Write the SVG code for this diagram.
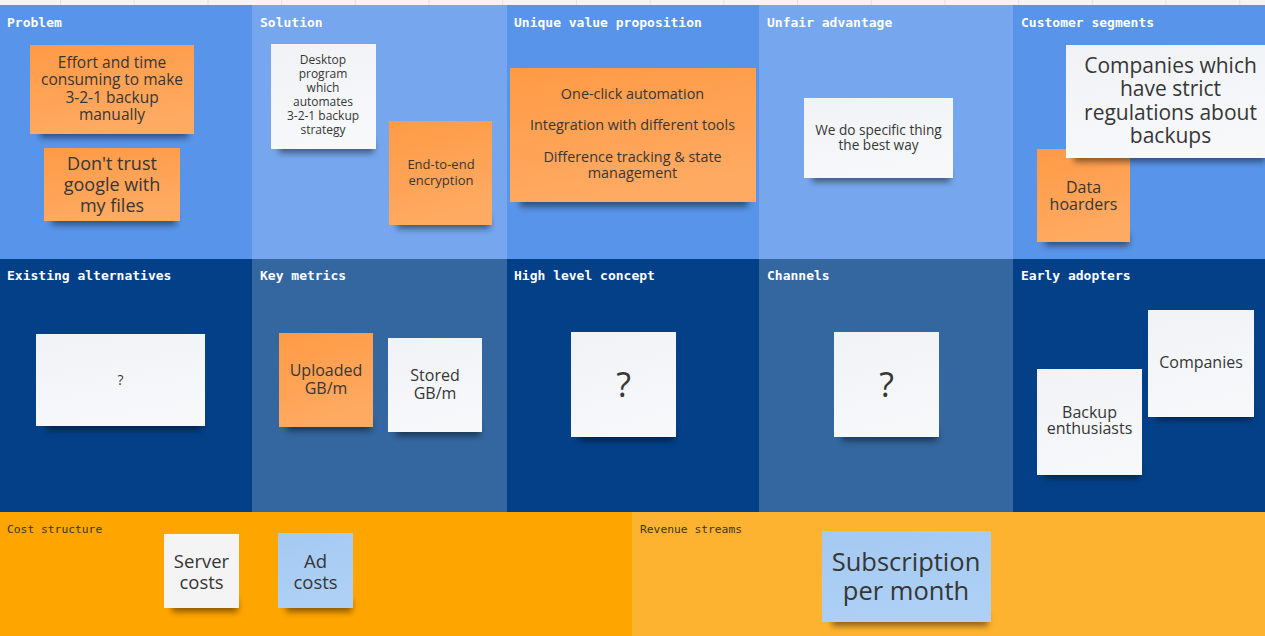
<svg xmlns="http://www.w3.org/2000/svg" width="1265" height="636" viewBox="0 0 1265 636">
<defs>
<linearGradient id="gOr" x1="0" y1="0" x2="0.3" y2="1">
<stop offset="0" stop-color="#FE9A45"/><stop offset="1" stop-color="#FFAA62"/>
</linearGradient>
<linearGradient id="gWh" x1="0" y1="0" x2="0.3" y2="1">
<stop offset="0" stop-color="#F1F2F5"/><stop offset="1" stop-color="#F7F8FA"/>
</linearGradient>
<linearGradient id="gBl" x1="0" y1="0" x2="0.3" y2="1">
<stop offset="0" stop-color="#A4C9F2"/><stop offset="1" stop-color="#AED0F5"/>
</linearGradient>
<filter id="blur" x="-20%" y="-100%" width="140%" height="300%"><feGaussianBlur stdDeviation="3"/></filter>
<pattern id="grid" width="73.7" height="6" patternUnits="userSpaceOnUse" x="-13.7">
<rect width="73.7" height="6" fill="#F4F4F4"/><rect x="0" width="1" height="6" fill="#E2E2E2"/>
</pattern>
</defs>
<style>
.hdr{font-family:"DejaVu Sans Mono","Liberation Mono",monospace;font-weight:bold;font-size:13px;fill:#FFFFFF}
.hdr3{font-family:"DejaVu Sans Mono","Liberation Mono",monospace;font-size:11.3px;fill:#3A3328}
.t{font-family:"Open Sans","Noto Sans",sans-serif;fill:#363636;text-anchor:middle}
.sh{fill:#000;opacity:0.45;filter:url(#blur)}
.or{fill:url(#gOr)}
.wh{fill:url(#gWh)}
.bl{fill:url(#gBl)}
</style>
<g id="panels">
<rect x="0" y="0" width="1265" height="6" fill="url(#grid)"/>
<rect x="0" y="5" width="252" height="254" fill="#5894E9"/>
<rect x="252" y="5" width="255" height="254" fill="#76A6ED"/>
<rect x="507" y="5" width="252" height="254" fill="#5894E9"/>
<rect x="759" y="5" width="254" height="254" fill="#76A6ED"/>
<rect x="1013" y="5" width="252" height="254" fill="#5894E9"/>
<rect x="0" y="259" width="252" height="253" fill="#044088"/>
<rect x="252" y="259" width="255" height="253" fill="#34669F"/>
<rect x="507" y="259" width="252" height="253" fill="#044088"/>
<rect x="759" y="259" width="254" height="253" fill="#34669F"/>
<rect x="1013" y="259" width="252" height="253" fill="#044088"/>
<rect x="0" y="512" width="632" height="124" fill="#FFA500"/>
<rect x="632" y="512" width="633" height="124" fill="#FDB32F"/>
<text class="hdr" x="7" y="27">Problem</text>
<text class="hdr" x="260" y="27">Solution</text>
<text class="hdr" x="514" y="27">Unique value proposition</text>
<text class="hdr" x="767" y="27">Unfair advantage</text>
<text class="hdr" x="1021" y="27">Customer segments</text>
<text class="hdr" x="7" y="280">Existing alternatives</text>
<text class="hdr" x="260" y="280">Key metrics</text>
<text class="hdr" x="514" y="280">High level concept</text>
<text class="hdr" x="767" y="280">Channels</text>
<text class="hdr" x="1021" y="280">Early adopters</text>
<text class="hdr3" x="7" y="532.5">Cost structure</text>
<text class="hdr3" x="640" y="532.5">Revenue streams</text>
</g>
<g id="connectors"/>
<g id="notes">
<g id="problem-effort">
<rect class="sh" x="40" y="126" width="148" height="12"/>
<rect class="or" x="30" y="45" width="164" height="89"/>
<text class="t" font-size="15.5"><tspan x="112" y="67.6">Effort and time</tspan><tspan x="112" y="85.1">consuming to make</tspan><tspan x="112" y="102.6">3-2-1 backup</tspan><tspan x="112" y="120.1">manually</tspan></text>
</g>
<g id="problem-trust">
<rect class="sh" x="52" y="213" width="124" height="12"/>
<rect class="or" x="44" y="148" width="136" height="73"/>
<text class="t" font-size="18"><tspan x="112" y="169.5">Don't trust</tspan><tspan x="112" y="190.5">google with</tspan><tspan x="112" y="211.5">my files</tspan></text>
</g>
<g id="solution-desktop">
<rect class="sh" x="279" y="141" width="95" height="12"/>
<rect class="wh" x="271" y="44" width="105" height="105"/>
<text class="t" font-size="12"><tspan x="323" y="64.3">Desktop</tspan><tspan x="323" y="78.3">program</tspan><tspan x="323" y="92.3">which</tspan><tspan x="323" y="106.3">automates</tspan><tspan x="323" y="120.3">3-2-1 backup</tspan><tspan x="323" y="134.3">strategy</tspan></text>
</g>
<g id="solution-encryption">
<rect class="sh" x="397" y="217" width="93" height="12"/>
<rect class="or" x="389" y="121" width="103" height="104"/>
<text class="t" font-size="13"><tspan x="441" y="168.7">End-to-end</tspan><tspan x="441" y="184.7">encryption</tspan></text>
</g>
<g id="uvp">
<rect class="sh" x="520" y="194" width="228" height="13"/>
<rect class="or" x="510" y="68" width="246" height="134"/>
<text class="t" font-size="14.4"><tspan x="632.5" y="99.2">One-click automation</tspan><tspan x="632.5" y="130.2">Integration with different tools</tspan><tspan x="632.5" y="161.9">Difference tracking &amp; state</tspan><tspan x="632.5" y="177.9">management</tspan></text>
</g>
<g id="unfair">
<rect class="sh" x="812" y="170" width="138" height="12"/>
<rect class="wh" x="804" y="98" width="149" height="80"/>
<text class="t" font-size="13.6"><tspan x="878.5" y="134.9">We do specific thing</tspan><tspan x="878.5" y="149.9">the best way</tspan></text>
</g>
<g id="segment-hoarders">
<rect class="sh" x="1045" y="234" width="84" height="12"/>
<rect class="or" x="1037" y="149" width="93" height="93"/>
<text class="t" font-size="16"><tspan x="1083.5" y="192.8">Data</tspan><tspan x="1083.5" y="209.8">hoarders</tspan></text>
</g>
<g id="segment-companies">
<rect class="sh" x="1074" y="150" width="191" height="12"/>
<rect class="wh" x="1066" y="45" width="199" height="113"/>
<text class="t" font-size="21"><tspan x="1170.5" y="72.6">Companies which</tspan><tspan x="1170.5" y="96.2">have strict</tspan><tspan x="1170.5" y="119.8">regulations about</tspan><tspan x="1170.5" y="142.6">backups</tspan></text>
</g>
<g id="alternatives">
<rect class="sh" x="46" y="418" width="156" height="12"/>
<rect class="wh" x="36" y="334" width="169" height="92"/>
<text class="t" font-size="14" x="120.5" y="385">?</text>
</g>
<g id="metric-uploaded">
<rect class="sh" x="287" y="419" width="84" height="12"/>
<rect class="or" x="279" y="333" width="94" height="94"/>
<text class="t" font-size="16"><tspan x="326" y="375.8">Uploaded</tspan><tspan x="326" y="393.8">GB/m</tspan></text>
</g>
<g id="metric-stored">
<rect class="sh" x="396" y="424" width="84" height="12"/>
<rect class="wh" x="388" y="338" width="94" height="94"/>
<text class="t" font-size="16"><tspan x="435" y="380.8">Stored</tspan><tspan x="435" y="398.8">GB/m</tspan></text>
</g>
<g id="concept">
<rect class="sh" x="579" y="429" width="95" height="12"/>
<rect class="wh" x="571" y="332" width="105" height="105"/>
<text class="t" font-size="34" x="623.5" y="397">?</text>
</g>
<g id="channels">
<rect class="sh" x="842" y="429" width="95" height="12"/>
<rect class="wh" x="834" y="332" width="105" height="105"/>
<text class="t" font-size="34" x="886.5" y="397">?</text>
</g>
<g id="adopter-backup">
<rect class="sh" x="1045" y="466" width="95" height="12"/>
<rect class="wh" x="1037" y="369" width="105" height="106"/>
<text class="t" font-size="16"><tspan x="1089.5" y="417.5">Backup</tspan><tspan x="1089.5" y="434.2">enthusiasts</tspan></text>
</g>
<g id="adopter-companies">
<rect class="sh" x="1156" y="408" width="96" height="12"/>
<rect class="wh" x="1148" y="310" width="106" height="107"/>
<text class="t" font-size="16" x="1201" y="367.7">Companies</text>
</g>
<g id="cost-server">
<rect class="sh" x="172" y="600" width="66" height="12"/>
<rect x="164" y="534" width="75" height="74" fill="#F4F4F4"/>
<text class="t" font-size="18.5"><tspan x="201.5" y="567.7">Server</tspan><tspan x="201.5" y="588.7">costs</tspan></text>
</g>
<g id="cost-ad">
<rect class="sh" x="286" y="600" width="66" height="12"/>
<rect class="bl" x="278" y="533" width="75" height="75"/>
<text class="t" font-size="18.5"><tspan x="315.5" y="567.7">Ad</tspan><tspan x="315.5" y="588.7">costs</tspan></text>
</g>
<g id="revenue-subscription">
<rect class="sh" x="832" y="614" width="156" height="12"/>
<rect class="bl" x="822" y="531" width="169" height="91"/>
<text class="t" font-size="25.5"><tspan x="906" y="571">Subscription</tspan><tspan x="906" y="599.5">per month</tspan></text>
</g>
</g>
</svg>
